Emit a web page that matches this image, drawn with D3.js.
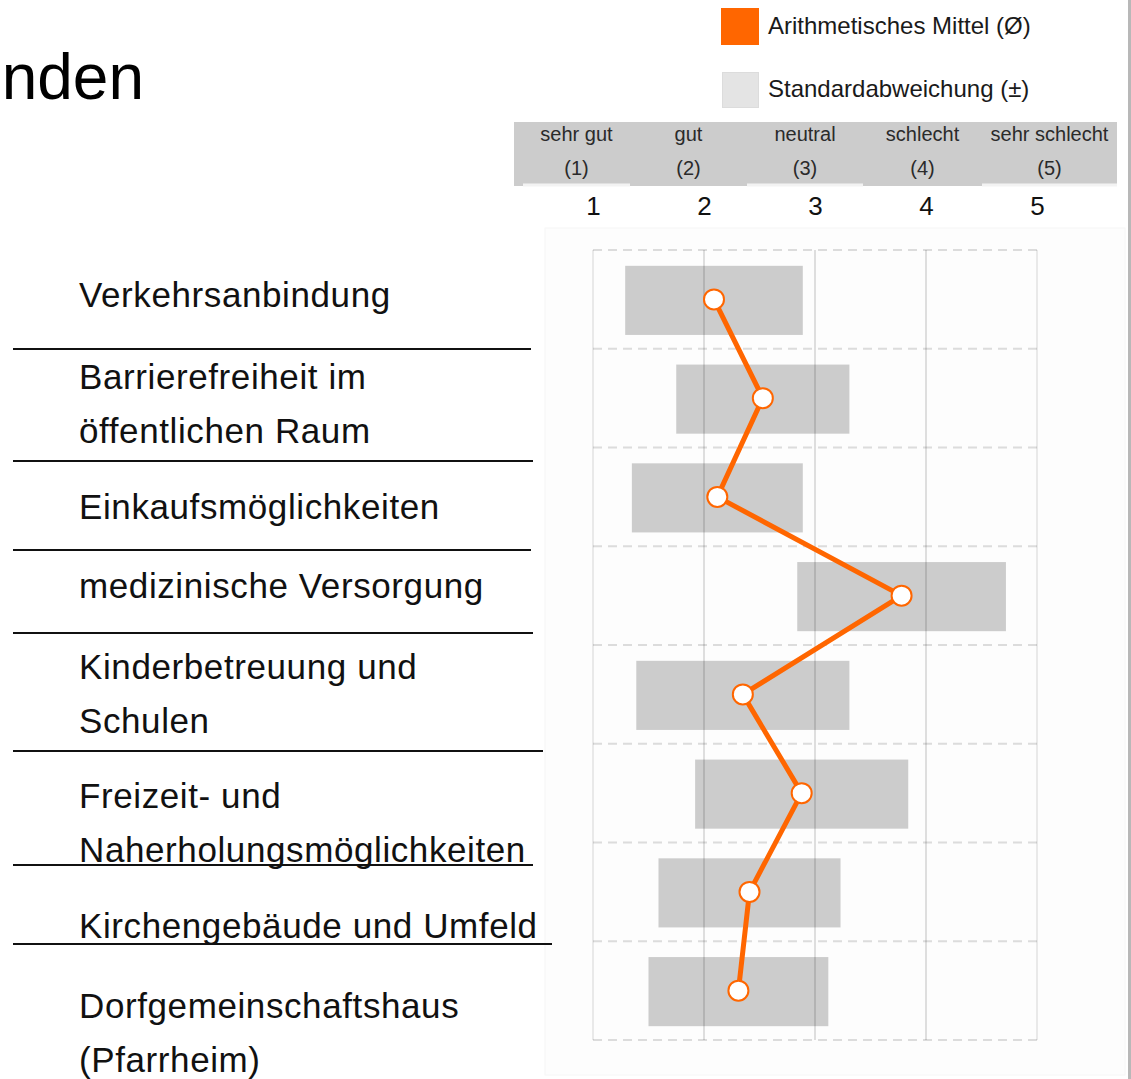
<!DOCTYPE html>
<html><head><meta charset="utf-8">
<script src="https://cdn.jsdelivr.net/npm/d3@7"></script>
<style>
body{margin:0;background:#fff;overflow:hidden}
svg{display:block}
text{font-family:"Liberation Sans",Arial,Helvetica,sans-serif}
</style>
</head><body>
<script>
// ---- data ----
const categories = ["Verkehrsanbindung","Barrierefreiheit im öffentlichen Raum","Einkaufsmöglichkeiten","medizinische Versorgung","Kinderbetreuung und Schulen","Freizeit- und Naherholungsmöglichkeiten","Kirchengebäude und Umfeld","Dorfgemeinschaftshaus (Pfarrheim)"];
const labelLines = [["Verkehrsanbindung"],["Barrierefreiheit im","öffentlichen Raum"],["Einkaufsmöglichkeiten"],["medizinische Versorgung"],["Kinderbetreuung und","Schulen"],["Freizeit- und","Naherholungsmöglichkeiten"],["Kirchengebäude und Umfeld"],["Dorfgemeinschaftshaus","(Pfarrheim)"]];
const means = [2.09, 2.53, 2.12, 3.78, 2.35, 2.88, 2.41, 2.31];
const sds   = [0.80, 0.78, 0.77, 0.94, 0.96, 0.96, 0.82, 0.81];
const ratingLabels = ["sehr gut","gut","neutral","schlecht","sehr schlecht"];
const ratingCodes = ["(1)","(2)","(3)","(4)","(5)"];
const tickValues = [1,2,3,4,5];
const legendLabels = ["Arithmetisches Mittel (Ø)","Standardabweichung (±)"];
const titleFragment = "nden";

// ---- layout (positions only) ----
const W = 1131, H = 1079;
const plot = {left:593, right:1037, top:250, bottom:1040};
const headerEdges = [523, 630, 747, 863, 982, 1117];
const leftTable = {
  x: 79,
  firstBaseline: [307, 389, 519, 598, 679, 808, 938, 1018],
  lineGap: 54,
  sepY: [349, 461, 550, 633, 751, 865, 944],
  sepX2: [531, 533, 531, 533, 543, 533, 552]
};
const ORANGE = "#ff6600";

const svg = d3.select("body").append("svg").attr("width", W).attr("height", H);

// title fragment
svg.append("text").attr("x", 144).attr("y", 99).attr("text-anchor","end")
  .attr("font-size", 64).attr("fill","#000").text(titleFragment);

// legend
const lg = svg.append("g");
lg.append("rect").attr("x",721).attr("y",8).attr("width",38).attr("height",37).attr("fill",ORANGE);
lg.append("rect").attr("x",722.5).attr("y",72.5).attr("width",36).attr("height",35).attr("fill","#e4e4e4").attr("stroke","#dcdcdc").attr("stroke-width",1);
lg.selectAll("text.lg").data(legendLabels).join("text").attr("class","lg")
  .attr("x",768).attr("y",(d,i)=> i===0 ? 34 : 97)
  .attr("font-size",24).attr("fill","#1a1a1a").text(d=>d);

// right border
svg.append("rect").attr("x",1128).attr("y",0).attr("width",3).attr("height",H).attr("fill","#b8b8b8");

// header band
svg.append("rect").attr("x",514).attr("y",122).attr("width",1117-514).attr("height",64).attr("fill","#cccccc");
const cols = ratingLabels.map((d,i)=>({label:d, code:ratingCodes[i], x0:headerEdges[i], x1:headerEdges[i+1], i}));
svg.selectAll("rect.strip").data(cols.filter(c=>c.i%2===0)).join("rect").attr("class","strip")
  .attr("x",d=>d.x0).attr("y",183.5).attr("width",d=>d.x1-d.x0).attr("height",3).attr("fill","#f3f3f3");
svg.selectAll("text.hl").data(cols).join("text").attr("class","hl")
  .attr("x",d=>(d.x0+d.x1)/2).attr("y",141).attr("text-anchor","middle")
  .attr("font-size",20).attr("fill","#2a2a2a").text(d=>d.label);
svg.selectAll("text.hc").data(cols).join("text").attr("class","hc")
  .attr("x",d=>(d.x0+d.x1)/2).attr("y",175).attr("text-anchor","middle")
  .attr("font-size",20).attr("fill","#2a2a2a").text(d=>d.code);

// scales
const x = d3.scaleLinear().domain([1,5]).range([plot.left, plot.right]);
const y = d3.scaleBand().domain(categories).range([plot.top, plot.bottom]);
const bh = y.bandwidth()*0.7;

// faint panel
svg.append("rect").attr("x",545).attr("y",228).attr("width",580).attr("height",847)
  .attr("fill","#fdfdfd").attr("stroke","#f6f6f6").attr("stroke-width",1);

// tick numbers via axis
const ax = svg.append("g").attr("transform","translate(0,218)")
  .call(d3.axisTop(x).tickValues(tickValues).tickSize(0).tickPadding(3).tickFormat(d3.format("d")));
ax.select(".domain").remove();
ax.selectAll("text").attr("font-size",26).attr("fill","#111").attr("font-family",'"Liberation Sans",Arial,sans-serif');

// horizontal dashed lines
const hLines = categories.map(c=>y(c)).concat([plot.bottom]);
svg.selectAll("line.h").data(hLines).join("line").attr("class","h")
  .attr("x1",x(1)).attr("x2",x(5)).attr("y1",d=>d).attr("y2",d=>d)
  .attr("stroke","#dcdcdc").attr("stroke-width",2).attr("stroke-dasharray","9,6");

const rows = categories.map((c,i)=>({cat:c, mean:means[i], sd:sds[i]}));

// SD bars
svg.selectAll("rect.sd").data(rows).join("rect").attr("class","sd")
  .attr("x",d=>x(d.mean-d.sd)).attr("width",d=>x(d.mean+d.sd)-x(d.mean-d.sd))
  .attr("y",d=>y(d.cat)+(y.bandwidth()-bh)/2+1).attr("height",bh)
  .attr("fill","#cccccc");

// vertical grid lines (over bars)
svg.selectAll("line.v").data(tickValues).join("line").attr("class","v")
  .attr("x1",d=>x(d)).attr("x2",d=>x(d)).attr("y1",plot.top).attr("y2",plot.bottom)
  .attr("stroke",d=> (d===1||d===5) ? "rgba(0,0,0,0.08)" : "rgba(0,0,0,0.12)").attr("stroke-width",2);

// mean line
const line = d3.line().x(d=>x(d.mean)).y(d=>y(d.cat)+y.bandwidth()/2);
svg.append("path").datum(rows).attr("d",line).attr("fill","none")
  .attr("stroke",ORANGE).attr("stroke-width",5).attr("stroke-linejoin","round");

svg.selectAll("circle.m").data(rows).join("circle").attr("class","m")
  .attr("cx",d=>x(d.mean)).attr("cy",d=>y(d.cat)+y.bandwidth()/2).attr("r",10)
  .attr("fill","#fff").attr("stroke",ORANGE).attr("stroke-width",2);

// left table labels
const lt = svg.append("g");
labelLines.forEach((lines,i)=>{
  lines.forEach((t,j)=>{
    lt.append("text").attr("x",leftTable.x).attr("y",leftTable.firstBaseline[i]+j*leftTable.lineGap)
      .attr("font-size",35).attr("letter-spacing","0.6px").attr("fill","#111").text(t);
  });
});
lt.selectAll("line.sep").data(leftTable.sepY).join("line").attr("class","sep")
  .attr("x1",13).attr("x2",(d,i)=>leftTable.sepX2[i]).attr("y1",d=>d).attr("y2",d=>d)
  .attr("stroke","#111").attr("stroke-width",2);
</script>
</body></html>
